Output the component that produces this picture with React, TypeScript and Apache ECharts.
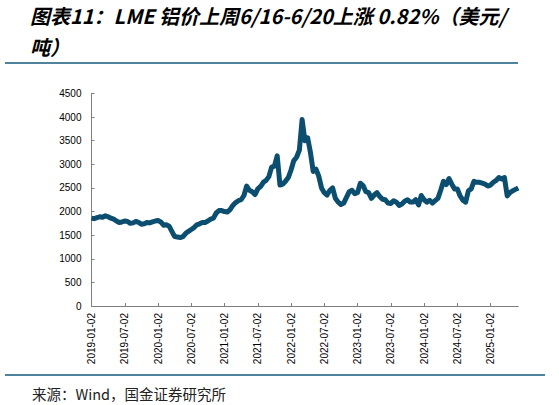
import { useEffect, useRef } from "react";
import * as echarts from "echarts";

// semi-monthly samples: the 2nd and 17th of each month, last one is 2025-06-20
const years = [2019, 2020, 2021, 2022, 2023, 2024, 2025];
const sampleDays = ["02", "17"];
const lastDate = "2025-06-20";

// LME aluminium, USD/t, two readings a month
const price2019 = [1860, 1850, 1870, 1890, 1880, 1910, 1890, 1860, 1840, 1800, 1770, 1780,
  1800, 1790, 1750, 1760, 1790, 1770, 1730, 1740, 1770, 1760, 1780, 1800];
const price2020 = [1810, 1780, 1710, 1720, 1690, 1580, 1470, 1460, 1450, 1470, 1540, 1580,
  1620, 1660, 1720, 1740, 1770, 1770, 1800, 1840, 1860, 1970, 2020, 2020];
const price2021 = [2000, 1990, 2040, 2130, 2190, 2230, 2250, 2340, 2540, 2450, 2420, 2360,
  2480, 2530, 2620, 2660, 2740, 2940, 2960, 3180, 2560, 2580, 2640, 2720];
const price2022 = [2880, 3080, 3150, 3300, 3950, 3500, 3560, 3250, 2850, 2900, 2750, 2500,
  2400, 2350, 2450, 2500, 2280, 2200, 2150, 2180, 2300, 2420, 2450, 2380];
const price2023 = [2400, 2600, 2550, 2420, 2400, 2280, 2350, 2400, 2320, 2260, 2250, 2180,
  2170, 2230, 2200, 2130, 2160, 2220, 2250, 2200, 2200, 2250, 2140, 2340];
const price2024 = [2250, 2200, 2240, 2180, 2230, 2280, 2450, 2640, 2570, 2700, 2580, 2480,
  2480, 2330, 2240, 2200, 2440, 2480, 2640, 2620, 2620, 2600, 2580, 2540];
const price2025 = [2560, 2620, 2660, 2720, 2690, 2720, 2330, 2400, 2440, 2470, 2500];

const yTicks = { min: 0, max: 4500, step: 500 };

const titleLines = ["图表11：LME 铝价上周6/16-6/20上涨 0.82%（美元/", "吨）"];
const sourceText = "来源：Wind，国金证券研究所";

const prices = [...price2019, ...price2020, ...price2021, ...price2022, ...price2023, ...price2024, ...price2025];

const dates: string[] = [];
years.forEach((y) => {
  for (let m = 1; m <= 12; m++) {
    sampleDays.forEach((d) => {
      if (dates.length < prices.length - 1) {
        dates.push(`${y}-${String(m).padStart(2, "0")}-${d}`);
      }
    });
  }
});
dates.push(lastDate);

const showLabel = (_i: number, v: string) => v.endsWith("-01-02") || v.endsWith("-07-02");

export default function App() {
  const ref = useRef<HTMLDivElement>(null);

  useEffect(() => {
    document.body.style.margin = "0";
    if (!ref.current) return;
    const chart = echarts.init(ref.current, null, { renderer: "svg" });

    const option = {
      animation: false,
      backgroundColor: "#ffffff",
      title: {
        text: titleLines.join("\n"),
        left: 30,
        top: 0,
        padding: 0,
        textStyle: {
          fontFamily: "Noto Sans CJK SC",
          fontSize: 20,
          fontWeight: "bold",
          fontStyle: "italic",
          color: "#000000",
          lineHeight: 31,
        },
      },
      grid: {
        left: 91.5,
        right: 40.7,
        top: 93.5,
        bottom: 99,
      },
      xAxis: {
        type: "category",
        data: dates,
        boundaryGap: false,
        axisLine: { lineStyle: { color: "#7f7f7f", width: 1 } },
        axisTick: {
          inside: true,
          length: 3,
          interval: showLabel,
          lineStyle: { color: "#7f7f7f" },
        },
        axisLabel: {
          interval: showLabel,
          rotate: 90,
          margin: 7,
          fontSize: 10,
          fontFamily: "Liberation Sans",
          color: "#000000",
        },
        splitLine: { show: false },
      },
      yAxis: {
        type: "value",
        min: yTicks.min,
        max: yTicks.max,
        interval: yTicks.step,
        axisLine: { show: true, lineStyle: { color: "#7f7f7f", width: 1 } },
        axisTick: { show: true, inside: true, length: 3, lineStyle: { color: "#7f7f7f" } },
        axisLabel: {
          margin: 10,
          fontSize: 10,
          fontFamily: "Liberation Sans",
          color: "#000000",
          formatter: (v: number) => String(v),
        },
        splitLine: { show: false },
      },
      series: [
        {
          type: "line",
          data: prices,
          showSymbol: false,
          lineStyle: { color: "#0b4e6f", width: 5, join: "round" },
          itemStyle: { color: "#0b4e6f" },
        },
      ],
      graphic: [
        {
          type: "line",
          shape: { x1: 5, y1: 63, x2: 518, y2: 63 },
          style: { stroke: "#17587a", lineWidth: 1.5 },
        },
        {
          type: "line",
          shape: { x1: 5, y1: 375, x2: 545, y2: 375 },
          style: { stroke: "#17587a", lineWidth: 1.5 },
        },
        {
          type: "text",
          x: 32,
          y: 393,
          style: {
            text: sourceText,
            fontFamily: "Noto Sans CJK SC",
            fontSize: 14.5,
            fill: "#222222",
            verticalAlign: "middle",
          },
        },
      ],
    };

    chart.setOption(option);
    return () => chart.dispose();
  }, []);

  return <div ref={ref} style={{ width: 559, height: 405 }} />;
}
